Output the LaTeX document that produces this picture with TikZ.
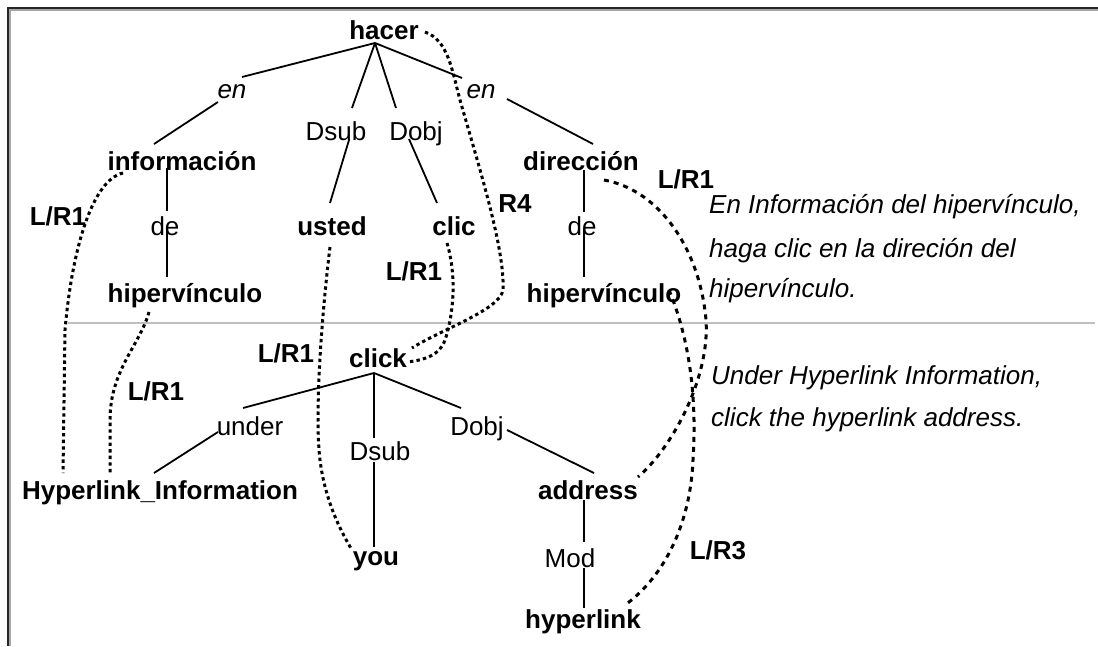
\documentclass[tikz,border=0pt]{standalone}
\usepackage{fontspec}
\setmainfont{Liberation Sans}
\usetikzlibrary{calc}

\begin{document}
\begin{tikzpicture}[x=1pt,y=-1pt,
  every node/.style={inner sep=0pt, anchor=base, font=\fontsize{26}{31}\selectfont},
  word/.style={font=\fontsize{26}{31}\selectfont\bfseries},
  prep/.style={font=\fontsize{26}{31}\selectfont\itshape},
  maplabel/.style={font=\fontsize{26}{31}\selectfont\bfseries},
  gloss/.style={anchor=base west, font=\fontsize{26}{31}\selectfont\itshape},
  treeline/.style={line width=1.8pt},
  mapdot/.style={line width=3pt, dash pattern=on 3.4pt off 3.2pt},
  mapdash/.style={line width=3pt, dash pattern=on 5pt off 5pt}]
\useasboundingbox (0,0) rectangle (1098,646);

% frame and separator
\draw[line width=1.4pt, black!35] (10,646) -- (10,10) -- (1098,10);
\draw[line width=2pt, black!85] (8,646) -- (8,8) -- (1098,8);
\draw[line width=2pt, black!25] (68,323) -- (1095,323);

% Spanish tree
\node[word] (hacer) at (384,39) {hacer};
\node[prep] (enL) at (232,98) {en};
\node[prep] (enR) at (481,98) {en};
\node (dsubT) at (336,140) {Dsub};
\node (dobjT) at (416,140) {Dobj};
\node[word] (info) at (182,170) {información};
\node[word] (dirT) at (581,170) {dirección};
\node (deL) at (165,235) {de};
\node (deR) at (582,235) {de};
\node[word] (usted) at (332,235) {usted};
\node[word] (clic) at (454,235) {clic};
\node[word] (hipL) at (185,302) {hipervínculo};
\node[word] (hipR) at (604,302) {hipervínculo};

% English tree
\node[word] (click) at (378,367) {click};
\node (underB) at (250,435) {under};
\node (dobjB) at (477,435) {Dobj};
\node (dsubB) at (380,460) {Dsub};
\node[word] (hinfo) at (160,499) {Hyperlink\_Information};
\node[word] (addr) at (588,499) {address};
\node[word] (you) at (376,565) {you};
\node (mod) at (570,567) {Mod};
\node[word] (hyper) at (583,628) {hyperlink};

% mapping labels
\node[maplabel] (lrA) at (58,225) {L/R1};
\node[maplabel] (rfour) at (515,212) {R4};
\node[maplabel] (lrB) at (414,280) {L/R1};
\node[maplabel] (lrC) at (686,188) {L/R1};
\node[maplabel] (lrD) at (156,400) {L/R1};
\node[maplabel] (lrE) at (286,362) {L/R1};
\node[maplabel] (lrF) at (718,559) {L/R3};

% sentences
\node[gloss] (esA) at (709,213) {En Información del hipervínculo,};
\node[gloss] (esB) at (709,257) {haga clic en la direción del};
\node[gloss] (esC) at (709,297) {hipervínculo.};
\node[gloss] (enA) at (711,384) {Under Hyperlink Information,};
\node[gloss] (enB) at (711,426) {click the hyperlink address.};

% Spanish dependencies
\draw[treeline] ($(hacer.base)+(-9,4)$) -- ($(enL.base)+(10,-21)$);
\draw[treeline] ($(enL.base)+(-14,4)$) -- ($(info.base)+(-28,-26)$);
\draw[treeline] ($(hacer.base)+(-9,4)$) -- ($(dsubT.base)+(16,-32)$);
\draw[treeline] ($(dsubT.base)+(13,0)$) -- ($(usted.base)+(-2,-32)$);
\draw[treeline] ($(hacer.base)+(-9,4)$) -- ($(dobjT.base)+(-20,-32)$);
\draw[treeline] ($(dobjT.base)+(-7,-1)$) -- ($(clic.base)+(-17,-32)$);
\draw[treeline] ($(hacer.base)+(-9,4)$) -- ($(enR.base)+(-19,-20)$);
\draw[treeline] ($(enR.base)+(26,1)$) -- ($(dirT.base)+(12,-26)$);
\draw[treeline] ($(info.base)+(-15,-2)$) -- ($(deL.base)+(2,-24)$);
\draw[treeline] ($(deL.base)+(2,-7)$) -- ($(hipL.base)+(-18,-25)$);
\draw[treeline] ($(dirT.base)+(3,0)$) -- ($(deR.base)+(2,-23)$);
\draw[treeline] ($(deR.base)+(2,-7)$) -- ($(hipR.base)+(-20,-25)$);

% English dependencies
\draw[treeline] ($(click.base)+(-4,6)$) -- ($(underB.base)+(-7,-27)$);
\draw[treeline] ($(underB.base)+(-32,-3)$) -- ($(hinfo.base)+(-6,-26)$);
\draw[treeline] ($(click.base)+(-4,6)$) -- ($(dsubB.base)+(-6,-22)$);
\draw[treeline] ($(dsubB.base)+(-6,2)$) -- ($(you.base)+(-2,-18)$);
\draw[treeline] ($(click.base)+(-4,6)$) -- ($(dobjB.base)+(-16,-27)$);
\draw[treeline] ($(dobjB.base)+(30,-5)$) -- ($(addr.base)+(6,-26)$);
\draw[treeline] ($(addr.base)+(-4,1)$) -- ($(mod.base)+(14,-25)$);
\draw[treeline] ($(mod.base)+(14,1)$) -- ($(hyper.base)+(1,-20)$);

% alignments
\draw[mapdot] ($(info.base)+(-59,3)$) .. controls (92,180) and (72,250) .. (65,330)
  -- ($(hinfo.base)+(-97,-26)$);
\draw[mapdot] ($(hipL.base)+(-36,10)$) .. controls (140,345) and (110,370) .. (110,420)
  -- ($(hinfo.base)+(-50,-26)$);
\draw[mapdot] ($(usted.base)+(-2,12)$) .. controls (320,330) and (315,420) .. (320,460)
  .. controls (325,500) and (340,530) .. ($(you.base)+(-24,-15)$);
\draw[mapdot] ($(clic.base)+(-7,8)$) .. controls (458,280) and (452,320) .. (445,340)
  .. controls (440,355) and (425,360) .. ($(click.base)+(29,-5)$);
\draw[mapdot] ($(hacer.base)+(41,-7)$) .. controls (448,40) and (452,70) .. (460,100)
  .. controls (480,170) and (505,250) .. (503,290)
  .. controls (500,310) and (440,330) .. ($(click.base)+(34,-19)$);
\draw[mapdash] ($(dirT.base)+(23,10)$) .. controls (660,190) and (700,250) .. (706,320)
  .. controls (710,380) and (670,450) .. ($(addr.base)+(50,-22)$);
\draw[mapdash] ($(hipR.base)+(65,-12)$) .. controls (690,340) and (697,400) .. (693,460)
  .. controls (690,530) and (660,580) .. ($(hyper.base)+(42,-23)$);
\end{tikzpicture}
\end{document}
